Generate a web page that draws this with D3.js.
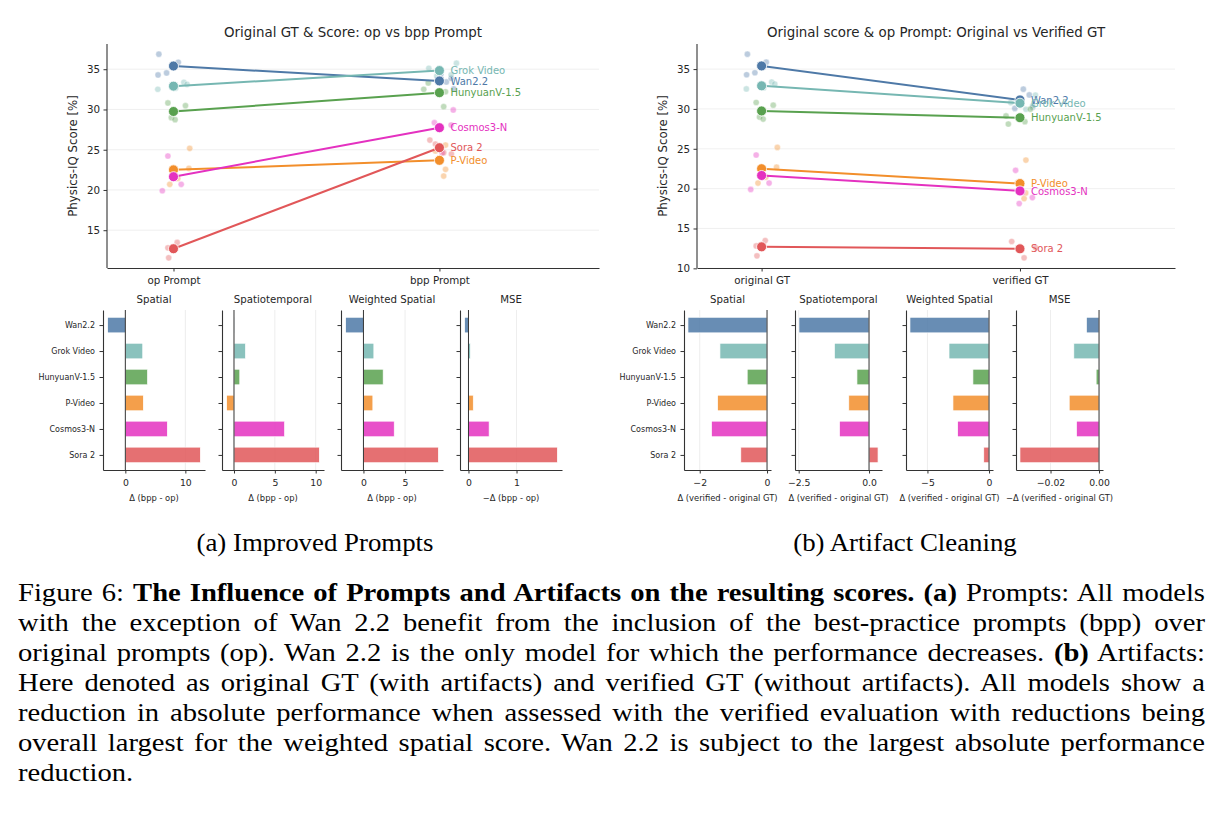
<!DOCTYPE html>
<html><head><meta charset="utf-8">
<script src="https://cdn.jsdelivr.net/npm/d3@7"></script>
<style>
body{margin:0;background:#fff;}
#wrap{position:relative;width:1225px;height:823px;overflow:hidden;background:#fff;}
#chart{position:absolute;left:0;top:0;}
.serif{font-family:"Liberation Serif","Times New Roman",serif;color:#000;}
.sub{position:absolute;font-size:26px;line-height:30px;white-space:nowrap;}
.capline{position:absolute;left:18px;font-size:26px;line-height:30px;white-space:nowrap;transform-origin:0 50%;}
</style></head>
<body><div id="wrap"><svg id="chart"></svg></div>
<script>
// ---------------- data ----------------
const models = ["Wan2.2", "Grok Video", "HunyuanV-1.5", "P-Video", "Cosmos3-N", "Sora 2"];
const colors = ["#4e79a7", "#76b7b2", "#59a14f", "#f28e2b", "#e431c0", "#e15759"];

// mean Physics-IQ scores
const opMean  = [35.4, 32.9, 29.75, 22.5, 21.65, 12.7];
const bppMean = [33.55, 34.83, 32.09, 23.68, 27.74, 25.25];
const verMean = [31.13, 30.72, 28.9, 20.64, 19.71, 12.45];

// individual runs (original GT / op prompt)
const opSeeds = [
  [36.87, 35.87, 34.29, 34.54],
  [32.51, 33.38, 33.13, 32.64],
  [30.81, 30.47, 28.98, 28.73],
  [25.17, 22.69, 20.70, 21.44],
  [24.22, 19.90, 20.70, 21.80],
  [12.81, 13.48, 11.57, 12.90]
];
const opJitter = [
  [-0.055, 0.018, -0.058, -0.026],
  [-0.059, 0.039, 0.051, 0.008],
  [-0.021, 0.045, -0.008, 0.006],
  [0.061, 0.058, -0.014, 0.016],
  [-0.021, -0.042, 0.029, 0.004],
  [-0.021, 0.014, -0.018, -0.004]
];
const bppSeeds = [
  [33.42, 33.88, 32.55, 34.35],
  [35.12, 35.75, 34.30, 34.15],
  [32.51, 32.20, 30.35, 33.30],
  [25.58, 22.56, 21.73, 24.85],
  [29.94, 28.36, 28.07, 24.60],
  [26.20, 25.70, 24.63, 24.47]
];
const bppJitter = [
  [0.026, 0.044, 0.054, 0.005],
  [-0.040, 0.064, 0.044, -0.010],
  [-0.059, 0.023, 0.016, -0.042],
  [0.023, 0.023, 0.016, -0.015],
  [0.052, -0.019, 0.044, 0.010],
  [-0.036, -0.015, 0.016, 0.045]
];
const verSeeds = [
  [32.48, 31.76, 30.21, 30.07],
  [30.80, 29.96, 30.38, 31.74],
  [29.12, 28.11, 28.40, 29.97],
  [23.58, 19.46, 18.75, 20.77],
  [22.30, 18.13, 18.88, 19.53],
  [13.37, 11.32, 12.60, 12.51]
];
const verJitter = [
  [0.013, 0.036, 0.049, -0.020],
  [-0.036, 0.023, 0.049, 0.060],
  [-0.054, -0.045, 0.019, 0.040],
  [0.023, 0.022, 0.016, -0.010],
  [-0.017, -0.003, 0.048, 0.010],
  [-0.032, 0.016, 0.060, 0.000]
];

const catsA = ["op Prompt", "bpp Prompt"];
const catsB = ["original GT", "verified GT"];
const yTicksA = [15, 20, 25, 30, 35];
const yTicksB = [10, 15, 20, 25, 30, 35];

const panelTitles = ["Spatial", "Spatiotemporal", "Weighted Spatial", "MSE"];

// deltas (bpp - op)
const promptSpatial  = [-2.95, 2.9, 3.7, 3.0, 7.0, 12.5];
const promptSpatioT  = [0.02, 1.41, 0.71, -0.9, 6.2, 10.45];
const promptWeighted = [-2.14, 1.25, 2.37, 1.13, 3.7, 9.0];
const promptMSE      = [-0.08, 0.04, 0.0, 0.1, 0.43, 1.85];
const promptTicks = [[0, 10], [0, 5, 10], [0, 5], [0, 1]];
const promptTickLabels = [["0", "10"], ["0", "5", "10"], ["0", "5"], ["0", "1"]];
const promptXLabels = ["Δ (bpp - op)", "Δ (bpp - op)", "Δ (bpp - op)", "−Δ (bpp - op)"];

// deltas (verified - original GT)
const artSpatial  = [-2.35, -1.4, -0.59, -1.47, -1.65, -0.78];
const artSpatioT  = [-2.49, -1.23, -0.43, -0.72, -1.05, 0.32];
const artWeighted = [-6.42, -3.25, -1.31, -2.93, -2.55, -0.43];
const artMSE      = [-0.0052, -0.0104, -0.0012, -0.0123, -0.0093, -0.0326];
const artTicks = [[-2, 0], [-2.5, 0], [-5, 0], [-0.02, 0]];
const artTickLabels = [["−2", "0"], ["−2.5", "0.0"], ["−5", "0"], ["−0.02", "0.00"]];
const artXLabels = ["Δ (verified - original GT)", "Δ (verified - original GT)", "Δ (verified - original GT)", "−Δ (verified - original GT)"];

const subCaptions = ["(a) Improved Prompts", "(b) Artifact Cleaning"];
const captionLines = [
  [["Figure 6: ", 0], ["The Influence of Prompts and Artifacts on the resulting scores. (a)", 1], [" Prompts: All models", 0]],
  [["with the exception of Wan 2.2 benefit from the inclusion of the best-practice prompts (bpp) over", 0]],
  [["original prompts (op). Wan 2.2 is the only model for which the performance decreases. ", 0], ["(b)", 1], [" Artifacts:", 0]],
  [["Here denoted as original GT (with artifacts) and verified GT (without artifacts). All models show a", 0]],
  [["reduction in absolute performance when assessed with the verified evaluation with reductions being", 0]],
  [["overall largest for the weighted spatial score. Wan 2.2 is subject to the largest absolute performance", 0]],
  [["reduction.", 0]]
];

// ---------------- drawing ----------------
const FONT = "DejaVu Sans";
const INK = "#262626";
const svg = d3.select("#chart").attr("width", 1225).attr("height", 560)
  .style("font-family", FONT);

function styleAxis(g, fs) {
  g.select(".domain").attr("stroke", "#333").attr("stroke-width", 1.1);
  g.selectAll(".tick line").attr("stroke", "#333").attr("stroke-width", 1);
  g.selectAll(".tick text").attr("fill", INK).style("font-size", fs + "px").style("font-family", FONT);
}

function slopePanel(c) {
  const all = c.seedsL.flat().concat(c.seedsR.flat(), c.meanL, c.meanR);
  const [mn, mx] = d3.extent(all);
  const pad = (mx - mn) * 0.05;
  const x = d3.scaleLinear().domain([-0.25, 1.6]).range([c.x0, c.x1]);
  const y = d3.scaleLinear().domain([mn - pad, mx + pad]).range([268, 44]);
  const g = svg.append("g");

  g.selectAll(null).data(c.yTicks).join("line")
    .attr("x1", c.x0).attr("x2", c.x1)
    .attr("y1", d => y(d)).attr("y2", d => y(d))
    .attr("stroke", "#ececec").attr("stroke-width", 0.8);

  models.forEach((m, i) => {
    [[c.seedsL, c.jitL, 0], [c.seedsR, c.jitR, 1]].forEach(([S, J, k]) => {
      g.selectAll(null).data(S[i]).join("circle")
        .attr("cx", (d, j) => x(k + J[i][j])).attr("cy", d => y(d))
        .attr("r", 3.1).attr("fill", colors[i]).attr("fill-opacity", 0.38)
        .attr("stroke", "#fff").attr("stroke-width", 0.4);
    });
  });
  models.forEach((m, i) => {
    g.append("line")
      .attr("x1", x(0)).attr("y1", y(c.meanL[i]))
      .attr("x2", x(1)).attr("y2", y(c.meanR[i]))
      .attr("stroke", colors[i]).attr("stroke-width", 2);
  });
  models.forEach((m, i) => {
    g.selectAll(null).data([[0, c.meanL[i]], [1, c.meanR[i]]]).join("circle")
      .attr("cx", d => x(d[0])).attr("cy", d => y(d[1]))
      .attr("r", 5).attr("fill", colors[i])
      .attr("stroke", "#fff").attr("stroke-width", 0.8);
  });
  models.forEach((m, i) => {
    g.append("text").attr("x", x(1) + 11).attr("y", y(c.meanR[i]) + 3.6)
      .attr("fill", colors[i]).style("font-size", "10px").text(m);
  });

  const ya = g.append("g").attr("transform", `translate(${c.x0},0)`)
    .call(d3.axisLeft(y).tickValues(c.yTicks).tickSize(3.5).tickSizeOuter(0).tickPadding(3.5));
  ya.select(".domain").attr("d", `M0,44V268`);
  styleAxis(ya, 10.3);
  const xa = g.append("g").attr("transform", `translate(0,268)`)
    .call(d3.axisBottom(x).tickValues([0, 1]).tickFormat(i => c.cats[i]).tickSize(3.5).tickSizeOuter(0).tickPadding(5.5));
  styleAxis(xa, 10.3);

  g.append("text").attr("transform", `translate(${c.ylabX},156) rotate(-90)`)
    .attr("text-anchor", "middle").attr("fill", INK).style("font-size", "11.8px")
    .text("Physics-IQ Score [%]");
  g.append("text").attr("x", (c.x0 + c.x1) / 2).attr("y", 36.5)
    .attr("text-anchor", "middle").attr("fill", INK).style("font-size", "13.4px")
    .text(c.title);
}

slopePanel({x0: 107, x1: 599, ylabX: 76.5, title: "Original GT & Score: op vs bpp Prompt",
  cats: catsA, seedsL: opSeeds, jitL: opJitter, seedsR: bppSeeds, jitR: bppJitter,
  meanL: opMean, meanR: bppMean, yTicks: yTicksA});
slopePanel({x0: 697, x1: 1175, ylabX: 667, title: "Original score & op Prompt: Original vs Verified GT",
  cats: catsB, seedsL: opSeeds, jitL: opJitter, seedsR: verSeeds, jitR: verJitter,
  meanL: opMean, meanR: verMean, yTicks: yTicksB});

function barPanel(c) {
  const [mn, mx] = d3.extent(c.vals.concat([0]));
  const pad = (mx - mn) * 0.05;
  const x = d3.scaleLinear().domain([mn - pad, mx + pad]).range([c.x0, c.x0 + c.w]);
  const y = d3.scaleLinear().domain([-0.58, 5.58]).range([310, 470]);
  const bh = (y(0.6) - y(0));
  const g = svg.append("g");

  g.selectAll(null).data(c.ticks.filter(t => t !== 0)).join("line")
    .attr("x1", d => x(d)).attr("x2", d => x(d)).attr("y1", 310).attr("y2", 470)
    .attr("stroke", "#e8e8e8").attr("stroke-width", 0.8);

  g.selectAll(null).data(c.vals).join("rect")
    .attr("x", d => x(Math.min(0, d))).attr("width", d => Math.abs(x(d) - x(0)))
    .attr("y", (d, i) => y(i) - bh / 2).attr("height", bh)
    .attr("fill", (d, i) => colors[i]).attr("fill-opacity", 0.85)
    .attr("stroke", "#fff").attr("stroke-width", 0.7);

  g.append("line").attr("x1", x(0)).attr("x2", x(0)).attr("y1", 310).attr("y2", 470)
    .attr("stroke", "#333").attr("stroke-width", 1);

  const ya = g.append("g").attr("transform", `translate(${c.x0},0)`)
    .call(d3.axisLeft(y).tickValues(d3.range(models.length))
      .tickFormat(i => c.showY ? models[i] : "").tickSize(3.5).tickSizeOuter(0).tickPadding(4.5));
  styleAxis(ya, 8);
  const xa = g.append("g").attr("transform", `translate(0,470)`)
    .call(d3.axisBottom(x).tickValues(c.ticks).tickFormat((d, i) => c.tickLabels[i])
      .tickSize(3.5).tickSizeOuter(0).tickPadding(6));
  styleAxis(xa, 9.3);

  g.append("text").attr("x", c.x0 + c.w / 2).attr("y", 302.7).attr("text-anchor", "middle")
    .attr("fill", INK).style("font-size", "10.2px").text(c.title);
  g.append("text").attr("x", c.x0 + c.w / 2).attr("y", 501.3).attr("text-anchor", "middle")
    .attr("fill", INK).style("font-size", "8.4px").text(c.xlabel);
}

const promptVals = [promptSpatial, promptSpatioT, promptWeighted, promptMSE];
const artVals = [artSpatial, artSpatioT, artWeighted, artMSE];
const promptLefts = [103, 222, 341, 460];
const artLefts = [684, 795, 906, 1016];
promptVals.forEach((v, k) => barPanel({x0: promptLefts[k], w: 102, vals: v, ticks: promptTicks[k],
  tickLabels: promptTickLabels[k], title: panelTitles[k], xlabel: promptXLabels[k], showY: k === 0}));
artVals.forEach((v, k) => barPanel({x0: artLefts[k], w: 87, vals: v, ticks: artTicks[k],
  tickLabels: artTickLabels[k], title: panelTitles[k], xlabel: artXLabels[k], showY: k === 0}));

// ---------------- captions (HTML text) ----------------
const wrap = d3.select("#wrap");
const LINE_W = 1187;
const lineDivs = [];
captionLines.forEach((parts, li) => {
  const div = wrap.append("div").attr("class", "serif capline").style("top", (578 + li * 30) + "px");
  const span = div.append("span");
  parts.forEach(([t, b]) => span.append("span").style("font-weight", b ? "bold" : "normal").text(t));
  const full = parts.map(p => p[0]).join("");
  lineDivs.push({div, span, n: (full.match(/ /g) || []).length, w: span.node().getBoundingClientRect().width});
});
// horizontal glyph scale so that the tightest justified line fits with natural spacing
const justified = lineDivs.slice(0, -1);
const sx = Math.min(1.1, d3.min(justified, d => LINE_W / d.w));
lineDivs.forEach((d, i) => {
  d.div.style("transform", `scaleX(${sx})`);
  if (i < lineDivs.length - 1) d.span.style("word-spacing", ((LINE_W / sx - d.w) / d.n) + "px");
});
const subX = [315, 905];
const subW = [237, 0];
subCaptions.forEach((t, i) => {
  const div = wrap.append("div").attr("class", "serif sub").style("left", subX[i] + "px").style("top", "528px").text(t);
  const w0 = div.node().getBoundingClientRect().width;
  const k = i === 0 ? subW[0] / w0 : null;
  div.attr("data-w", w0);
});
// same horizontal scale for both sub-captions, fitted on the first one's printed width
const sSub = subW[0] / (+wrap.select(".sub").attr("data-w"));
wrap.selectAll(".sub").style("transform", `translateX(-50%) scaleX(${sSub})`);
</script>
</body></html>
